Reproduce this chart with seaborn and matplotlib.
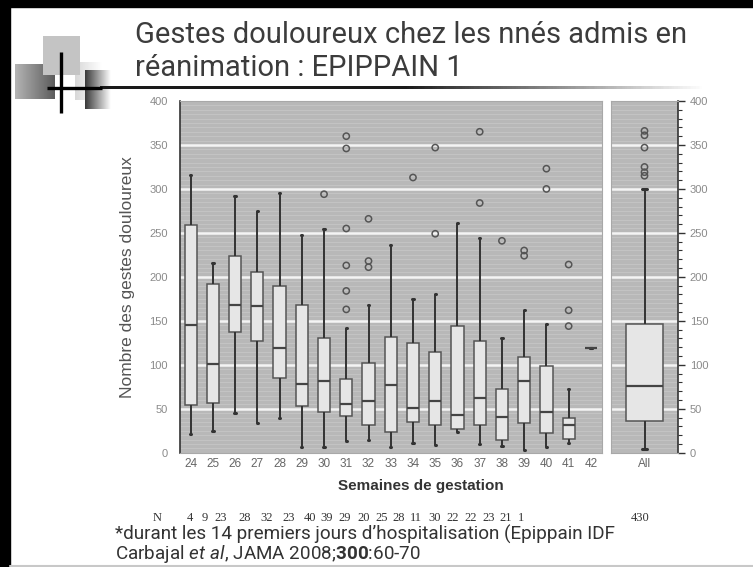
import matplotlib
matplotlib.use("Agg")
import matplotlib.pyplot as plt
import numpy as np
import pandas as pd
import seaborn as sns
from matplotlib import font_manager
from matplotlib.colors import LinearSegmentedColormap
from matplotlib.patches import Rectangle
from matplotlib.ticker import MultipleLocator

# values (five-number summary per week of gestation)
weeks = [str(w) for w in range(24, 43)]
whisker_low = [21, 25, 45, 34, 40, 6, 6, 13, 15, 6, 11, 9, 23, 10, 8, 3, 6, 11, 119]
q1 = [54, 57, 137, 127, 85, 53, 46, 42, 32, 23, 35, 32, 27, 32, 14, 34, 22, 16, 119]
median = [145, 101, 168, 167, 119, 78, 81, 55, 59, 77, 51, 59, 43, 62, 41, 81, 46, 31, 119]
q3 = [259, 192, 224, 206, 190, 168, 130, 84, 102, 132, 125, 114, 144, 127, 72, 109, 99, 40, 119]
whisker_high = [316, 216, 292, 275, 295, 248, 254, 142, 168, 236, 175, 181, 261, 244, 130, 162, 146, 72, 119]

outlier_weeks = ["30", "31", "31", "31", "31", "31", "31", "32", "32", "32", "34",
                 "35", "35", "37", "37", "38", "39", "39", "40", "40", "41", "41", "41"]
outlier_values = [294, 360, 346, 255, 213, 184, 163, 266, 218, 211, 313,
                  347, 249, 365, 284, 241, 230, 224, 323, 300, 214, 162, 144]

all_summary = [4, 36, 76, 146, 300]
all_outliers = [366, 361, 347, 325, 319, 315]

n_counts = [4, 9, 23, 28, 32, 23, 40, 39, 29, 20, 25, 28, 11, 30, 22, 22, 23, 21, 1]
n_all = 430

W, H = 753, 567

# long table: one row per summary value
rows = []
for i, w in enumerate(weeks):
    for v in (whisker_low[i], q1[i], median[i], q3[i], whisker_high[i]):
        rows.append({"week": w, "value": v})
df = pd.DataFrame(rows)
df_all = pd.DataFrame({"week": ["All"] * 5, "value": all_summary})

sns.set_style("white")
names = {f.name for f in font_manager.fontManager.ttflist}
NARROW = next((n for n in ["Liberation Sans Narrow", "Roboto"] if n in names), "DejaVu Sans")
plt.rcParams["font.family"] = ["Liberation Sans", "DejaVu Sans"]

fig = plt.figure(figsize=(W / 100, H / 100), dpi=100)
fig.patch.set_facecolor("white")


def px(x0, y0, x1, y1):
    return [x0 / W, 1 - y1 / H, (x1 - x0) / W, (y1 - y0) / H]


# slide decorations
bg = fig.add_axes([0, 0, 1, 1], zorder=-1)
bg.set_xlim(0, W)
bg.set_ylim(H, 0)
bg.axis("off")
bg.add_patch(Rectangle((0, 0), W, 7, color="black"))
bg.add_patch(Rectangle((0, 0), 10, H, color="black"))
bg.plot([10, W], [565.5, 565.5], color="#c8c8c8", lw=1.5)

grad = np.linspace(0, 1, 64).reshape(1, -1)
bg.add_patch(Rectangle((43, 36), 37, 39, color="#c4c4c4", lw=0))
bg.imshow(grad, extent=(75, 102, 100, 62), cmap=LinearSegmentedColormap.from_list("a", ["#d8d8d8", "#ffffff"]), aspect="auto")
bg.imshow(grad, extent=(15, 55, 99, 64), cmap=LinearSegmentedColormap.from_list("b", ["#b4b4b4", "#5c5c5c"]), aspect="auto")
bg.imshow(grad, extent=(85, 111, 109, 70), cmap=LinearSegmentedColormap.from_list("c", ["#3a3a3a", "#ffffff"]), aspect="auto")
bg.imshow(grad, extent=(100, 710, 89.5, 87), cmap=LinearSegmentedColormap.from_list("d", ["#1a1a1a", "#1a1a1a", "#ffffff"]), aspect="auto")
bg.plot([47, 102], [88.2, 88.2], color="black", lw=2.4, solid_capstyle="butt")
bg.plot([61, 61], [52, 113], color="black", lw=2.4, solid_capstyle="butt")
bg.set_xlim(0, W)
bg.set_ylim(H, 0)

fig.text(135 / W, 1 - 35 / H, "Gestes douloureux chez les nnés admis en", family=NARROW,
         fontsize=21, color="#3c3c3c", va="center")
fig.text(135 / W, 1 - 68 / H, "réanimation : EPIPPAIN 1", family=NARROW,
         fontsize=21, color="#3c3c3c", va="center")

# chart panels
ax = fig.add_axes(px(179.5, 101, 602, 452.7))
ax2 = fig.add_axes(px(611, 101, 678, 452.7))

box_kws = dict(x="week", y="value", whis=(0, 100), width=0.55, color="#e6e6e6",
               linecolor="#555555", linewidth=1.1, capwidths=0.06,
               medianprops=dict(color="#444444", linewidth=1.6),
               whiskerprops=dict(color="#333333", linewidth=1.4),
               capprops=dict(color="#333333", linewidth=2.2))

for a in (ax, ax2):
    a.set_facecolor("#b8b8b8")
    for v in range(0, 401, 5):
        a.axhline(v, color="#c4c4c4", lw=0.7, zorder=0.2)
    for v in range(50, 400, 50):
        a.axhline(v, color="#f4f4f4", lw=1.8, zorder=0.3)

sns.boxplot(data=df, order=weeks, ax=ax, **box_kws)
n_before = len(ax.collections)
sns.stripplot(x=outlier_weeks, y=outlier_values, order=weeks, jitter=False, ax=ax,
              size=4.5, color="#555555")
out_left = ax.collections[n_before:]

sns.boxplot(data=df_all, ax=ax2, **box_kws)
n_before = len(ax2.collections)
sns.stripplot(x=["All"] * len(all_outliers), y=all_outliers, jitter=False, ax=ax2,
              size=4.5, color="#555555")
out_right = ax2.collections[n_before:]

for pts in list(out_left) + list(out_right):
    pts.set_facecolor("none")
    pts.set_edgecolor("#555555")
    pts.set_linewidth(1.1)

for a, n in ((ax, len(weeks)), (ax2, 1)):
    a.set_xlim(-0.5, n - 0.5)
    a.set_ylim(0, 400)
    a.yaxis.set_major_locator(MultipleLocator(50))
    a.yaxis.set_minor_locator(MultipleLocator(10))
    a.set_xlabel("")
    a.set_ylabel("")
    a.tick_params(axis="x", length=0, labelsize=8.5, labelcolor="#666666", pad=4)
    a.tick_params(axis="y", which="major", direction="out", length=5, width=1,
                  color="#333333", labelsize=8, labelcolor="#8a8a8a")
    a.tick_params(axis="y", which="minor", direction="out", length=3, width=0.8,
                  color="#333333")
    for s in a.spines.values():
        s.set_color("#a8a8a8")
        s.set_linewidth(0.8)

ax.spines["left"].set_color("#333333")
ax.spines["left"].set_linewidth(1.2)
ax2.yaxis.tick_right()
ax2.spines["right"].set_color("#333333")
ax2.spines["right"].set_linewidth(1.2)

fig.text(128 / W, 1 - 277 / H, "Nombre des gestes douloureux", rotation=90,
         fontsize=12.5, color="#555555", ha="center", va="center")
fig.text(421 / W, 1 - 486 / H, "Semaines de gestation", fontsize=11, weight="bold",
         color="#333333", ha="center", va="center")

# N row under the axis
n_x = [190, 205, 221, 245, 267, 289, 310, 327, 345, 364, 382, 399, 416, 435, 453, 471, 489, 506, 521]
fig.text(157 / W, 1 - 518 / H, "N", family="Liberation Serif", fontsize=9,
         color="#333333", ha="center", va="center")
for xp, n in zip(n_x, n_counts):
    fig.text(xp / W, 1 - 518 / H, str(n), family="Liberation Serif", fontsize=9,
             color="#333333", ha="center", va="center")
fig.text(640 / W, 1 - 518 / H, str(n_all), family="Liberation Serif", fontsize=9,
         color="#333333", ha="center", va="center")

plt.rcParams["mathtext.fontset"] = "custom"
plt.rcParams["mathtext.rm"] = NARROW
plt.rcParams["mathtext.it"] = NARROW + ":italic"
plt.rcParams["mathtext.bf"] = NARROW + ":bold"
footnote = ("*durant les 14 premiers jours d’hospitalisation (Epippain IDF\n"
            r"Carbajal $\mathit{et\ al}$, JAMA 2008;$\mathbf{300}$:60-70")
fig.text(115 / W, 1 - 525 / H, footnote, family=NARROW, fontsize=13.6,
         color="#333333", va="top", linespacing=0.95)

fig.savefig("out.png", dpi=100)
